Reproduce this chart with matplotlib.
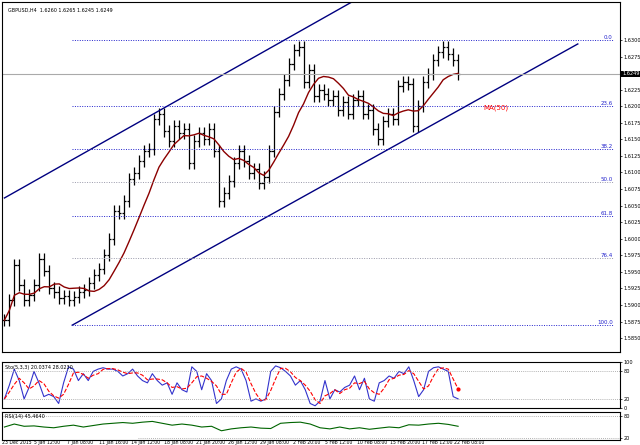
import numpy as np
import matplotlib
matplotlib.use("Agg")
import matplotlib.pyplot as plt

closes = [1.5877,1.5907,1.5960,1.5930,1.5907,1.5915,1.5930,1.5970,1.5952,1.5925,1.5919,1.5910,1.5913,1.5907,
          1.5912,1.5919,1.5922,1.5933,1.5945,1.5955,1.5975,1.6000,1.6042,1.6039,1.6057,1.6090,1.6099,1.6117,
          1.6132,1.6135,1.6180,1.6189,1.6162,1.6147,1.6170,1.6159,1.6165,1.6114,1.6147,1.6159,1.6150,1.6165,
          1.6132,1.6057,1.6069,1.6087,1.6114,1.6132,1.6117,1.6099,1.6105,1.6084,1.6093,1.6132,1.6192,1.6219,
          1.6240,1.6264,1.6285,1.6290,1.6237,1.6255,1.6215,1.6225,1.6219,1.6210,1.6215,1.6195,1.6207,1.6189,
          1.6210,1.6215,1.6189,1.6195,1.6165,1.6150,1.6177,1.6189,1.6180,1.6230,1.6237,1.6234,1.6170,1.6200,
          1.6237,1.6249,1.6270,1.6282,1.6290,1.6279,1.6270,1.6249]
stoch = [20,50,85,60,20,45,80,55,25,30,25,10,55,90,85,60,75,60,80,85,88,85,85,80,70,75,85,70,60,55,
         75,60,50,55,30,55,40,35,90,80,40,75,60,10,20,60,85,90,85,60,15,20,15,20,80,92,88,80,70,50,
         60,40,10,5,15,60,20,40,35,45,50,70,40,65,20,15,55,60,70,65,80,75,90,60,25,40,80,88,90,85,80,25,20]
rsi = [50,58,52,53,50,48,52,55,50,54,58,60,62,60,63,65,60,55,58,55,50,52,40,45,48,50,47,46,60,62,
       63,58,48,45,50,45,48,44,47,50,48,56,55,58,60,57,52]
fib_levels = ["0.0","23.6","38.2","50.0","61.8","76.4","100.0"]
fib_prices = [1.6300,1.6200,1.6135,1.6086,1.6035,1.5971,1.5870]
xlabels = ["23 Dec 2015","5 Jan 12:00","7 Jan 08:00","11 Jan 16:00","14 Jan 12:00","18 Jan 08:00",
           "21 Jan 20:00","26 Jan 12:00","29 Jan 08:00","2 Feb 20:00","5 Feb 12:00","10 Feb 08:00",
           "15 Feb 20:00","17 Feb 12:00","22 Feb 08:00"]

N = len(closes)
c = np.array(closes)
o = np.r_[c[0], c[:-1]]
hi = np.maximum(o, c) + 0.0009
lo = np.minimum(o, c) - 0.0009
x = np.arange(N)
ma = np.array([c[max(0, i-9):i+1].mean() for i in range(N)])

fig = plt.figure(figsize=(6.4, 4.45), dpi=100)
fig.patch.set_facecolor("white")
XL = (-0.5, 123.5)
ax = fig.add_axes([0.003, 0.209, 0.966, 0.786])
ax.set_xlim(*XL); ax.set_ylim(1.5829, 1.6357)
ax.vlines(x, lo, hi, color="black", lw=0.9)
ax.hlines(c, x, x+0.45, color="black", lw=0.9)
ax.hlines(o, x-0.45, x, color="black", lw=0.9)
ax.plot(x, ma, color="#8b0000", lw=1)
ax.plot([0, 69.6], [1.6357-197*0.00015, 1.6357], color="#000080", lw=1)
ax.plot([13.6, 115], [1.6357-325*0.00015, 1.6357-42*0.00015], color="#000080", lw=1)
for lab, p in zip(fib_levels, fib_prices):
    col = "#9999aa" if lab in ("50.0", "76.4") else "#2222cc"
    ax.hlines(p, 13.6, 122, color=col, lw=0.7, linestyles=(0, (1, 1.5)))
    ax.text(122, p, lab, fontsize=4, color="#2222cc", ha="right", va="bottom")
ax.axhline(c[-1], color="#aaaaaa", lw=0.8)
ax.text(96, 1.6195, "MA(50)", fontsize=5, color="red")
ax.yaxis.tick_right()
ticks = np.arange(1.5850, 1.6320, 0.0025)
ax.set_yticks(ticks)
ax.set_yticklabels([f"{t:.4f}" for t in ticks], fontsize=3.6)
ax.text(1.003, (c[-1]-1.5829)/(1.6357-1.5829), f"{c[-1]:.4f}", transform=ax.transAxes, fontsize=3.6,
        color="white", va="center", bbox=dict(facecolor="black", pad=0.4, lw=0))
ax.set_xticks([])
ax.text(0.01, 0.985, "GBPUSD,H4  1.6260 1.6265 1.6245 1.6249", transform=ax.transAxes, fontsize=3.5, va="top")
ax.tick_params(length=1.5, width=0.5, pad=1)

s = np.array(stoch, float)
sx = np.arange(len(s)) * (N-1) / (len(s)-1)
sig = np.array([s[max(0, i-2):i+1].mean() for i in range(len(s))])
a2 = fig.add_axes([0.003, 0.083, 0.966, 0.103])
a2.set_xlim(*XL); a2.set_ylim(0, 100)
a2.plot(sx, s, color="#3333cc", lw=0.8)
a2.plot(sx, sig, color="red", lw=0.8, ls="--")
a2.plot(sx[-1], sig[-1], "o", color="red", ms=2)
for lv in (80, 20):
    a2.axhline(lv, color="#999999", lw=0.6, ls=(0, (1, 1.5)))
a2.yaxis.tick_right(); a2.set_yticks([0, 20, 80, 100]); a2.set_yticklabels(["0", "20", "80", "100"], fontsize=3.6)
a2.set_xticks([]); a2.tick_params(length=1.5, width=0.5, pad=1)
a2.text(0.005, 0.93, "Sto(5,3,3) 20.0374 28.0230", transform=a2.transAxes, fontsize=3.5, va="top")

r = np.array(rsi, float)
rx = np.arange(len(r)) * (N-1) / (len(r)-1)
a3 = fig.add_axes([0.003, 0.011, 0.966, 0.063])
a3.set_xlim(*XL); a3.set_ylim(15, 90)
a3.plot(rx, r, color="#006400", lw=0.8)
a3.axhline(80, color="#999999", lw=0.6, ls=(0, (1, 1.5)))
a3.axhline(20, xmin=0.22, color="#999999", lw=0.6, ls=(0, (1, 1.5)))
a3.yaxis.tick_right(); a3.set_yticks([20, 80]); a3.set_yticklabels(["20", "80"], fontsize=3.6)
a3.set_xticks([]); a3.tick_params(length=1.5, width=0.5, pad=1)
a3.text(0.005, 0.93, "RSI(14) 45.4640", transform=a3.transAxes, fontsize=3.5, va="top")
for a in (ax, a2, a3):
    for sp in a.spines.values():
        sp.set_linewidth(0.8)

for i, lab in enumerate(xlabels):
    fig.text(0.003 + i * 0.0505, 0.001, lab, fontsize=3.3, va="bottom")
fig.savefig("out.png", dpi=100)
